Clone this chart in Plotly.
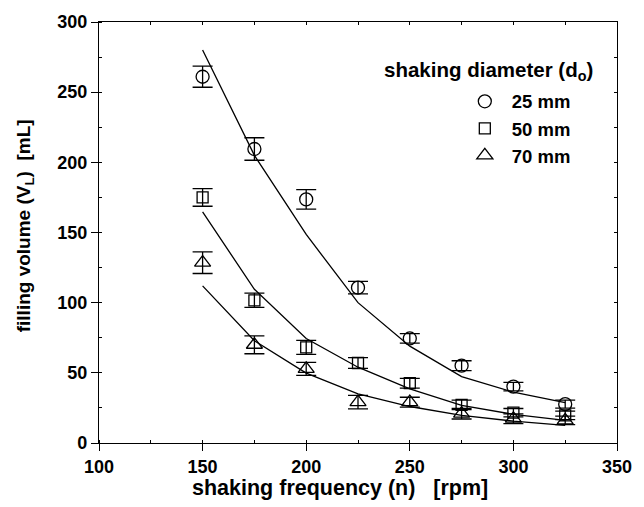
import plotly.graph_objects as go

# Data
freq = [150, 175, 200, 225, 250, 275, 300, 325]

vol_25 = [261.0, 209.5, 173.6, 110.7, 74.5, 55.1, 40.2, 27.7]
err_25 = [7.5, 8.0, 7.0, 4.5, 3.4, 3.5, 3.0, 2.8]
fit_25 = [280.0, 205.0, 148.6, 100.0, 69.0, 47.3, 36.2, 28.8]

vol_50 = [175.0, 101.7, 68.1, 57.0, 42.6, 27.2, 21.6, 19.7]
err_50 = [6.3, 5.1, 5.0, 3.8, 3.5, 3.4, 3.0, 3.0]
fit_50 = [164.7, 109.5, 74.5, 54.0, 38.6, 26.8, 20.4, 16.1]

vol_70 = [128.5, 70.0, 52.8, 29.1, 29.1, 20.9, 17.3, 16.1]
err_70 = [7.7, 6.4, 4.6, 4.8, 3.5, 3.8, 3.5, 3.0]
fit_70 = [112.0, 72.9, 49.8, 35.0, 26.0, 19.7, 15.6, 12.6]

series = [
    ("25 mm", vol_25, err_25, fit_25, "circle-open", 13),
    ("50 mm", vol_50, err_50, fit_50, "square-open", 11),
    ("70 mm", vol_70, err_70, fit_70, "triangle-up-open", 14),
]

FONT = "Liberation Sans, Arial, sans-serif"

fig = go.Figure()

for name, vals, errs, fit, sym, size in series:
    fig.add_trace(go.Scatter(
        x=freq, y=fit, mode="lines",
        line=dict(color="black", width=1.3),
        showlegend=False, hoverinfo="skip",
    ))
for name, vals, errs, fit, sym, size in series:
    fig.add_trace(go.Scatter(
        x=freq, y=vals, mode="markers", name=name,
        marker=dict(symbol=sym, size=size, color="black",
                    line=dict(color="black", width=1.3)),
        error_y=dict(type="data", array=errs, visible=True,
                     color="black", thickness=1.3, width=10),
    ))

# invisible trace to create mirror axes (top / right)
fig.add_trace(go.Scatter(x=[None], y=[None], xaxis="x2", yaxis="y2",
                         showlegend=False, hoverinfo="skip"))

axis_font = dict(family=FONT, size=18, color="black", weight="bold")

fig.update_layout(
    width=644, height=507,
    margin=dict(l=99, r=27, t=20, b=64),
    paper_bgcolor="white", plot_bgcolor="white",
    font=dict(family=FONT, color="black", weight="bold"),
    xaxis=dict(
        range=[100, 350], dtick=50, tick0=100,
        showgrid=False, zeroline=False,
        showline=True, linecolor="black", linewidth=1.3,
        ticks="outside", ticklen=7, tickwidth=1.3, tickcolor="black",
        tickfont=axis_font,
        minor=dict(dtick=25, ticks="inside", ticklen=3, tickwidth=1.2,
                   tickcolor="black", showgrid=False),
    ),
    yaxis=dict(
        range=[0, 300], dtick=50, tick0=0,
        showgrid=False, zeroline=False,
        showline=True, linecolor="black", linewidth=1.3,
        ticks="outside", ticklen=7, tickwidth=1.3, tickcolor="black",
        tickfont=axis_font,
        minor=dict(dtick=25, ticks="inside", ticklen=3, tickwidth=1.2,
                   tickcolor="black", showgrid=False),
    ),
    xaxis2=dict(
        overlaying="x", side="top", anchor="y2",
        range=[100, 350], dtick=25, tick0=100,
        showgrid=False, zeroline=False, showticklabels=False,
        showline=True, linecolor="black", linewidth=1.3,
        ticks="inside", ticklen=3, tickwidth=1.2, tickcolor="black",
    ),
    yaxis2=dict(
        overlaying="y", side="right", anchor="x2",
        range=[0, 300], dtick=25, tick0=0,
        showgrid=False, zeroline=False, showticklabels=False,
        showline=True, linecolor="black", linewidth=1.3,
        ticks="inside", ticklen=3, tickwidth=1.2, tickcolor="black",
    ),
    legend=dict(
        x=0.6927, y=0.8557, xanchor="left", yanchor="top",
        bgcolor="rgba(0,0,0,0)", borderwidth=0,
        itemwidth=44,
        font=dict(family=FONT, size=18.5, color="black", weight="bold"),
        tracegroupgap=0,
    ),
    annotations=[
        dict(text="shaking frequency (n)\u00a0\u00a0\u00a0[rpm]",
             xref="paper", yref="paper", x=0.465, y=-0.107,
             xanchor="center", yanchor="middle", showarrow=False,
             font=dict(family=FONT, size=21.5, color="black", weight="bold")),
        dict(text="filling volume (V<sub>L</sub>)\u00a0\u00a0[mL]",
             xref="paper", yref="paper", x=-0.143, y=0.517,
             xanchor="center", yanchor="middle", textangle=-90, showarrow=False,
             font=dict(family=FONT, size=19, color="black", weight="bold")),
        dict(text="shaking diameter (d<sub>o</sub>)",
             xref="paper", yref="paper", x=(381.7 - 99) / 518.3, y=(442.7 - 69) / 422.7,
             xanchor="left", yanchor="middle", showarrow=False,
             font=dict(family=FONT, size=20.5, color="black", weight="bold")),
    ],
)

fig.write_html("out.html")
